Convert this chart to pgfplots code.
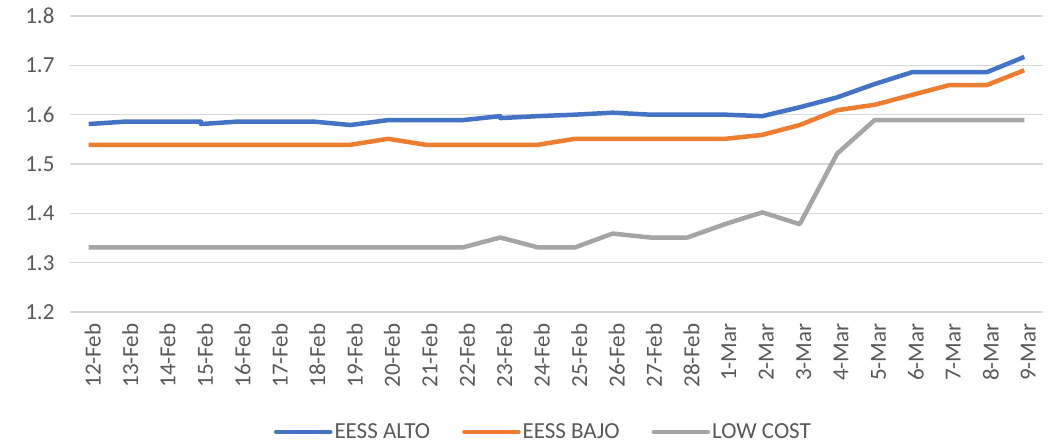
\documentclass[border=0pt]{standalone}
\usepackage{fontspec}
\setmainfont{Carlito}
\usepackage{pgfplots}
\pgfplotsset{compat=1.18}
\definecolor{cblue}{HTML}{4472C4}
\definecolor{corange}{HTML}{ED7D31}
\definecolor{cgray}{HTML}{A5A5A5}
\definecolor{ctext}{HTML}{595959}
\definecolor{cgrid}{HTML}{D9D9D9}
\begin{document}
\begin{tikzpicture}[x=1pt,y=1pt]
\begin{axis}[
  scale only axis,
  width=973pt, height=296pt,
  xmin=-0.5, xmax=25.5,
  ymin=1.2, ymax=1.8,
  ytick={1.2,1.3,...,1.8},
  yticklabel style={/pgf/number format/fixed,/pgf/number format/precision=1,/pgf/number format/fixed zerofill},
  /pgf/number format/assume math mode=true,
  xtick={0,...,25},
  xticklabels={12-Feb,13-Feb,14-Feb,15-Feb,16-Feb,17-Feb,18-Feb,19-Feb,20-Feb,21-Feb,22-Feb,23-Feb,24-Feb,25-Feb,26-Feb,27-Feb,28-Feb,1-Mar,2-Mar,3-Mar,4-Mar,5-Mar,6-Mar,7-Mar,8-Mar,9-Mar},
  xticklabel style={rotate=90, anchor=east},
  tick label style={font=\fontsize{23}{23}\selectfont, text=ctext},
  xtick style={draw=none}, ytick style={draw=none},
  axis line style={draw=none},
  ymajorgrids, major grid style={cgrid, line width=1.3pt},
  yticklabel style={xshift=-12pt},
  xticklabel style={yshift=-4pt, xshift=-8pt},
  legend columns=3,
  legend style={draw=none, fill=none, at={(rel axis cs:0.4866,-0.405)}, anchor=center,
    font=\fontsize{23}{23}\selectfont, text=ctext,
    /tikz/every even column/.append style={column sep=30pt}},
  legend image code/.code={\draw[#1,line width=4.5pt,line cap=round] (-4pt,0pt) -- (50pt,0pt);},
  every axis plot/.append style={line width=4.5pt, line join=round, no markers},
]
\addplot[cblue] coordinates {
(0,1.581) (1,1.586) (2,1.586) (3,1.586) (3,1.581) (4,1.586) (5,1.586) (6,1.586)
(7,1.579) (8,1.589) (9,1.589) (10,1.589) (11,1.597) (11,1.593) (12,1.597) (13,1.600)
(14,1.604) (15,1.600) (16,1.600) (17,1.600) (18,1.597) (19,1.615) (20,1.635) (21,1.662)
(22,1.686) (23,1.686) (24,1.686) (25,1.717)};
\addlegendentry{EESS ALTO}
\addplot[corange] coordinates {
(0,1.539) (1,1.539) (2,1.539) (3,1.539) (4,1.539) (5,1.539) (6,1.539) (7,1.539)
(8,1.551) (9,1.539) (10,1.539) (11,1.539) (12,1.539) (13,1.551) (14,1.551) (15,1.551)
(16,1.551) (17,1.551) (18,1.559) (19,1.579) (20,1.609) (21,1.620) (22,1.640) (23,1.660)
(24,1.660) (25,1.690)};
\addlegendentry{EESS BAJO}
\addplot[cgray] coordinates {
(0,1.331) (1,1.331) (2,1.331) (3,1.331) (4,1.331) (5,1.331) (6,1.331) (7,1.331)
(8,1.331) (9,1.331) (10,1.331) (11,1.351) (12,1.331) (13,1.331) (14,1.359) (15,1.351)
(16,1.351) (17,1.378) (18,1.402) (19,1.378) (20,1.521) (21,1.589) (22,1.589) (23,1.589)
(24,1.589) (25,1.589)};
\addlegendentry{LOW COST}
\coordinate (bbl) at (rel axis cs:-0.0719,-0.4527);
\coordinate (btr) at (rel axis cs:1.0103,1.054);
\end{axis}
\path (bbl) rectangle (btr);
\end{tikzpicture}
\end{document}
